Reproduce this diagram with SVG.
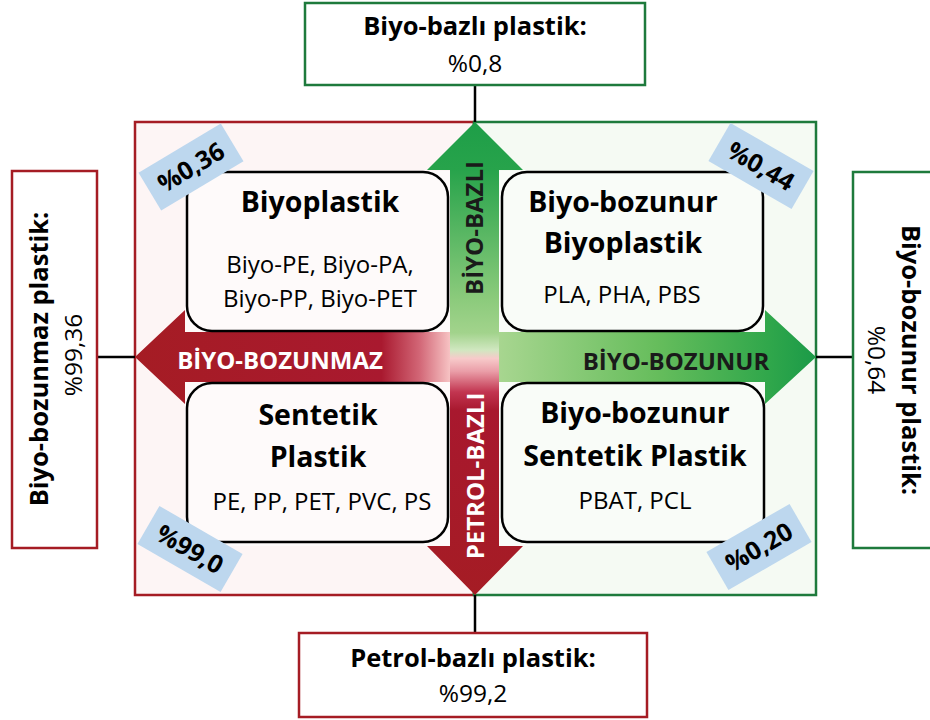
<svg xmlns="http://www.w3.org/2000/svg" width="930" height="720" viewBox="0 0 930 720">
  <defs>
    <linearGradient id="gradRed" gradientUnits="userSpaceOnUse" x1="135" y1="0" x2="451" y2="0">
      <stop offset="0" stop-color="#a51c24"/>
      <stop offset="0.78" stop-color="#a9192f"/>
      <stop offset="0.9" stop-color="#d26676"/>
      <stop offset="1" stop-color="#f8c6c6"/>
    </linearGradient>
    <linearGradient id="gradGreen" gradientUnits="userSpaceOnUse" x1="498" y1="0" x2="816" y2="0">
      <stop offset="0" stop-color="#a8d690"/>
      <stop offset="0.5" stop-color="#66bd5c"/>
      <stop offset="0.85" stop-color="#30a74b"/>
      <stop offset="1" stop-color="#1b9a48"/>
    </linearGradient>
    <linearGradient id="gradVert" gradientUnits="userSpaceOnUse" x1="0" y1="122" x2="0" y2="595">
      <stop offset="0" stop-color="#1e9e48"/>
      <stop offset="0.1" stop-color="#27a34b"/>
      <stop offset="0.376" stop-color="#8ccb7c"/>
      <stop offset="0.446" stop-color="#a2d38c"/>
      <stop offset="0.482" stop-color="#d0e7c0"/>
      <stop offset="0.5" stop-color="#f7caca"/>
      <stop offset="0.527" stop-color="#ea9ea8"/>
      <stop offset="0.571" stop-color="#c23550"/>
      <stop offset="0.61" stop-color="#a8182e"/>
      <stop offset="1" stop-color="#a51c24"/>
    </linearGradient>
  </defs>
  <style>
    text { font-family: "Open Sans", "Liberation Sans", sans-serif; fill: #000; }
    .title { font-size: 28.5px; font-weight: bold; text-anchor: middle; }
    .item { font-size: 24px; text-anchor: middle; }
    .lbl { font-size: 25.5px; font-weight: bold; text-anchor: middle; }
    .val { font-size: 24.5px; text-anchor: middle; }
    .arr { font-size: 24px; font-weight: bold; text-anchor: middle; }
    .tag { fill: #bdd7ee; }
    .tagtxt { font-size: 25px; font-weight: bold; text-anchor: middle; }
    .node { stroke: #000; stroke-width: 2.5; }
    .conn { stroke: #000; stroke-width: 2.5; fill: none; }
    .redbox { fill: #fff; stroke: #a51c24; stroke-width: 2.5; }
    .greenbox { fill: #fff; stroke: #1e7a3c; stroke-width: 2.5; }
  </style>

  <!-- quadrant frames -->
  <g id="frames">
    <rect x="135" y="122" width="339" height="473" fill="#fdf5f5" stroke="#a51c24" stroke-width="2.5"/>
    <rect x="474" y="122" width="342" height="473" fill="#f5faf3" stroke="#1e7a3c" stroke-width="2.5"/>
  </g>

  <!-- connectors from frame to summary boxes -->
  <g id="connectors">
    <line class="conn" x1="475" y1="85" x2="475" y2="122"/>
    <line class="conn" x1="475" y1="595" x2="475" y2="633"/>
    <line class="conn" x1="97" y1="357" x2="135" y2="357"/>
    <line class="conn" x1="816" y1="357" x2="853" y2="357"/>
  </g>

  <!-- axis arrows -->
  <g id="axes">
    <polygon points="135,357 185,310 185,332 451,332 451,382 185,382 185,404" fill="url(#gradRed)"/>
    <polygon points="816,357 765,310 765,332 498,332 498,382 765,382 765,404" fill="url(#gradGreen)"/>
    <polygon points="475,122 523,170 499,170 499,546 523,546 475,595 427,546 450,546 450,170 427,170" fill="url(#gradVert)"/>
    <text class="arr" x="280" y="369" style="fill:#fff">BİYO-BOZUNMAZ</text>
    <text class="arr" x="676" y="370" style="fill:#1a1a1a">BİYO-BOZUNUR</text>
    <text class="arr" transform="translate(483,228) rotate(-90)" style="fill:#1a1a1a">BİYO-BAZLI</text>
    <text class="arr" transform="translate(484,476) rotate(-90)" style="fill:#fff">PETROL-BAZLI</text>
  </g>

  <!-- quadrant nodes -->
  <g id="node-biyoplastik">
    <rect x="185" y="171" width="265" height="161" fill="#fefafa"/>
    <rect class="node" x="187" y="172" width="261" height="159" rx="25" fill="#fefafa"/>
    <text class="title" x="320" y="212">Biyoplastik</text>
    <text class="item" x="320" y="273">Biyo-PE, Biyo-PA,</text>
    <text class="item" x="320" y="307">Biyo-PP, Biyo-PET</text>
  </g>
  <g id="node-biyobozunur-biyoplastik">
    <rect x="499" y="171" width="266" height="161" fill="#f9fcf8"/>
    <rect class="node" x="502" y="172" width="261" height="159" rx="25" fill="#f9fcf8"/>
    <text class="title" x="623" y="212">Biyo-bozunur</text>
    <text class="title" x="623" y="253">Biyoplastik</text>
    <text class="item" x="622" y="303">PLA, PHA, PBS</text>
  </g>
  <g id="node-sentetik-plastik">
    <rect x="185" y="382" width="265" height="164" fill="#fefafa"/>
    <rect class="node" x="187" y="383" width="261" height="159" rx="25" fill="#fefafa"/>
    <text class="title" x="318" y="425">Sentetik</text>
    <text class="title" x="318" y="467">Plastik</text>
    <text class="item" x="322" y="510">PE, PP, PET, PVC, PS</text>
  </g>
  <g id="node-biyobozunur-sentetik">
    <rect x="499" y="382" width="266" height="164" fill="#f9fcf8"/>
    <rect class="node" x="502" y="383" width="262" height="159" rx="25" fill="#f9fcf8"/>
    <text class="title" x="635" y="423">Biyo-bozunur</text>
    <text class="title" x="635" y="466">Sentetik Plastik</text>
    <text class="item" x="635" y="509">PBAT, PCL</text>
  </g>

  <!-- share tags -->
  <g id="tag-036" transform="translate(191,167) rotate(-31)">
    <rect class="tag" x="-48" y="-22" width="96" height="44"/>
    <text class="tagtxt" x="0" y="9">%0,36</text>
  </g>
  <g id="tag-044" transform="translate(761,166) rotate(30)">
    <rect class="tag" x="-48" y="-22" width="96" height="44"/>
    <text class="tagtxt" x="0" y="9">%0,44</text>
  </g>
  <g id="tag-990" transform="translate(190,549) rotate(30)">
    <rect class="tag" x="-48" y="-22" width="96" height="44"/>
    <text class="tagtxt" x="0" y="9">%99,0</text>
  </g>
  <g id="tag-020" transform="translate(759,547) rotate(-30)">
    <rect class="tag" x="-48" y="-22" width="96" height="44"/>
    <text class="tagtxt" x="0" y="9">%0,20</text>
  </g>

  <!-- summary boxes -->
  <g id="box-biyobazli">
    <rect class="greenbox" x="305" y="3" width="340" height="82"/>
    <text class="lbl" x="475" y="35">Biyo-bazlı plastik:</text>
    <text class="val" x="475" y="72">%0,8</text>
  </g>
  <g id="box-petrolbazli">
    <rect class="redbox" x="299" y="633" width="348" height="84"/>
    <text class="lbl" x="473" y="667">Petrol-bazlı plastik:</text>
    <text class="val" x="473" y="702">%99,2</text>
  </g>
  <g id="box-biyobozunmaz">
    <rect class="redbox" x="12" y="171" width="85" height="377"/>
    <text class="lbl" transform="translate(48,359) rotate(-90)">Biyo-bozunmaz plastik:</text>
    <text class="val" transform="translate(82,355) rotate(-90)">%99,36</text>
  </g>
  <g id="box-biyobozunur">
    <rect class="greenbox" x="853" y="172" width="90" height="376"/>
    <text class="lbl" transform="translate(902,360) rotate(90)">Biyo-bozunur plastik:</text>
    <text class="val" transform="translate(868,360) rotate(90)">%0,64</text>
  </g>
</svg>
